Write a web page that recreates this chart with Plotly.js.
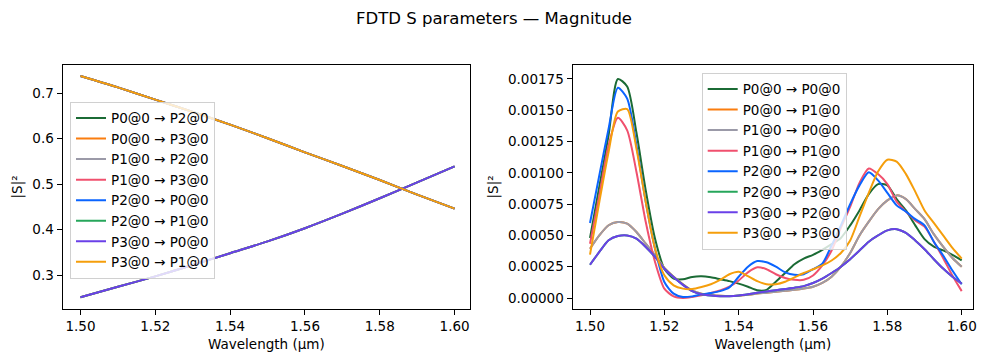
<!DOCTYPE html>
<html>
<head>
<meta charset="utf-8">
<script src="https://cdn.plot.ly/plotly-3.0.1.min.js"></script>
<style>html,body{margin:0;padding:0;background:#fff;}#chart{width:989px;height:362px;}</style>
</head>
<body>
<div id="chart"></div>
<script>
// ---------- data ----------
const chartTitle = 'FDTD S parameters — Magnitude';
const xLabel = 'Wavelength (μm)';
const yLabel = '|S|²';

// left panel: transmission |S|^2
const wlLeft = [1.50, 1.51, 1.52, 1.53, 1.54, 1.55, 1.56, 1.57, 1.58, 1.59, 1.60];
const barTransmission = [0.738, 0.713, 0.686, 0.659, 0.631, 0.601, 0.570, 0.540, 0.509, 0.477, 0.446];
const crossTransmission = [0.251, 0.274, 0.297, 0.322, 0.348, 0.374, 0.403, 0.435, 0.469, 0.504, 0.539];

const leftNames = ['P0@0 → P2@0', 'P0@0 → P3@0', 'P1@0 → P2@0', 'P1@0 → P3@0',
                   'P2@0 → P0@0', 'P2@0 → P1@0', 'P3@0 → P0@0', 'P3@0 → P1@0'];
const leftSeries = [barTransmission, crossTransmission, crossTransmission, barTransmission,
                    barTransmission, crossTransmission, crossTransmission, barTransmission];

// right panel: reflection / isolation |S|^2
const wlRight = [1.5000, 1.5025, 1.5050, 1.5075, 1.5100, 1.5125, 1.5150, 1.5175, 1.5200, 1.5225,
                 1.5250, 1.5275, 1.5300, 1.5325, 1.5350, 1.5375, 1.5400, 1.5425, 1.5450, 1.5475,
                 1.5500, 1.5525, 1.5550, 1.5575, 1.5600, 1.5625, 1.5650, 1.5675, 1.5700, 1.5725,
                 1.5750, 1.5775, 1.5800, 1.5825, 1.5850, 1.5875, 1.5900, 1.5925, 1.5950, 1.5975, 1.6000];
const s00 = [4.79e-4, 8.9e-4, 13.0e-4, 17.5e-4, 16.9e-4, 13.2e-4, 8.6e-4, 4.74e-4, 2.34e-4, 1.55e-4,
             1.49e-4, 1.68e-4, 1.73e-4, 1.65e-4, 1.5e-4, 1.35e-4, 1.15e-4, 0.9e-4, 0.62e-4, 0.65e-4,
             1.3e-4, 2.0e-4, 2.7e-4, 3.15e-4, 3.45e-4, 3.85e-4, 4.3e-4, 4.8e-4, 5.8e-4, 7.0e-4,
             8.3e-4, 9.1e-4, 9.0e-4, 7.9e-4, 7.0e-4, 5.8e-4, 4.7e-4, 4.1e-4, 3.8e-4, 3.45e-4, 3.0e-4];
const s01 = [3.94e-4, 5.0e-4, 5.81e-4, 6.07e-4, 5.94e-4, 5.27e-4, 4.34e-4, 3.41e-4, 2.4e-4, 1.7e-4,
             1.1e-4, 0.6e-4, 0.35e-4, 0.25e-4, 0.18e-4, 0.15e-4, 0.18e-4, 0.25e-4, 0.35e-4, 0.42e-4,
             0.5e-4, 0.58e-4, 0.65e-4, 0.75e-4, 0.9e-4, 1.2e-4, 1.7e-4, 2.5e-4, 3.6e-4, 5.0e-4,
             6.1e-4, 7.1e-4, 7.8e-4, 8.2e-4, 7.9e-4, 7.1e-4, 6.3e-4, 5.1e-4, 4.1e-4, 3.2e-4, 2.5e-4];
const s11 = [4.34e-4, 8.2e-4, 12.2e-4, 14.4e-4, 13.4e-4, 10.07e-4, 6.07e-4, 2.88e-4, 0.75e-4, 0.13e-4,
             0.0, 0.08e-4, 0.21e-4, 0.4e-4, 0.6e-4, 0.9e-4, 1.4e-4, 2.05e-4, 2.45e-4, 2.3e-4,
             1.9e-4, 1.6e-4, 1.45e-4, 1.45e-4, 1.8e-4, 2.6e-4, 3.8e-4, 5.6e-4, 7.3e-4, 9.2e-4,
             10.35e-4, 9.9e-4, 9.1e-4, 7.7e-4, 6.9e-4, 6.2e-4, 5.7e-4, 4.5e-4, 3.2e-4, 1.8e-4, 0.55e-4];
const s22 = [5.99e-4, 9.8e-4, 13.53e-4, 16.8e-4, 15.93e-4, 12.2e-4, 7.67e-4, 3.94e-4, 1.28e-4, 0.35e-4,
             0.08e-4, 0.13e-4, 0.29e-4, 0.4e-4, 0.55e-4, 0.85e-4, 1.7e-4, 2.5e-4, 2.95e-4, 2.85e-4,
             2.5e-4, 2.05e-4, 1.85e-4, 1.9e-4, 2.3e-4, 2.75e-4, 4.2e-4, 5.8e-4, 7.5e-4, 9.0e-4,
             10.05e-4, 9.4e-4, 8.4e-4, 7.4e-4, 6.9e-4, 6.3e-4, 5.8e-4, 4.5e-4, 3.4e-4, 2.2e-4, 1.1e-4];
const s23 = [2.66e-4, 3.68e-4, 4.61e-4, 4.95e-4, 5.0e-4, 4.74e-4, 4.08e-4, 3.28e-4, 2.34e-4, 1.65e-4,
             1.05e-4, 0.55e-4, 0.3e-4, 0.2e-4, 0.14e-4, 0.14e-4, 0.2e-4, 0.3e-4, 0.42e-4, 0.52e-4,
             0.62e-4, 0.72e-4, 0.82e-4, 0.95e-4, 1.2e-4, 1.55e-4, 2.0e-4, 2.5e-4, 3.1e-4, 3.8e-4,
             4.5e-4, 5.0e-4, 5.4e-4, 5.5e-4, 5.2e-4, 4.6e-4, 3.9e-4, 3.1e-4, 2.35e-4, 1.7e-4, 1.15e-4];
const s33 = [3.46e-4, 7.67e-4, 11.67e-4, 14.9e-4, 15.1e-4, 11.93e-4, 7.67e-4, 3.94e-4, 1.81e-4, 1.01e-4,
             0.75e-4, 0.72e-4, 0.88e-4, 1.1e-4, 1.45e-4, 1.9e-4, 2.1e-4, 1.75e-4, 1.35e-4, 1.1e-4,
             1.1e-4, 1.3e-4, 1.65e-4, 2.0e-4, 2.3e-4, 2.6e-4, 3.0e-4, 3.6e-4, 4.6e-4, 6.5e-4,
             8.4e-4, 10.1e-4, 11.05e-4, 10.9e-4, 9.9e-4, 8.5e-4, 7.0e-4, 6.0e-4, 5.0e-4, 4.0e-4, 3.15e-4];

const rightNames = ['P0@0 → P0@0', 'P0@0 → P1@0', 'P1@0 → P0@0', 'P1@0 → P1@0',
                    'P2@0 → P2@0', 'P2@0 → P3@0', 'P3@0 → P2@0', 'P3@0 → P3@0'];
const rightSeries = [s00, s01, s01, s11, s22, s23, s23, s33];

const palette = ['#1b6b35', '#fa7d0f', '#9b9aa8', '#f0506e', '#0a64ff', '#26a65b', '#6a40e8', '#f59e0b'];

// ---------- build ----------
const FONT = 'DejaVu Sans, Arial, sans-serif';
const traces = [];
leftNames.forEach((n, i) => traces.push({
  x: wlLeft, y: leftSeries[i], name: n, type: 'scatter', mode: 'lines',
  line: {color: palette[i], width: 2, shape: 'spline', smoothing: 0.8},
  xaxis: 'x', yaxis: 'y', legend: 'legend'
}));
rightNames.forEach((n, i) => traces.push({
  x: wlRight, y: rightSeries[i], name: n, type: 'scatter', mode: 'lines',
  line: {color: palette[i], width: 2, shape: 'spline', smoothing: 0.7},
  xaxis: 'x2', yaxis: 'y2', legend: 'legend2'
}));

const W = 989, H = 362;
const axBase = {
  showline: true, mirror: true, linecolor: 'black', linewidth: 1,
  ticks: 'outside', ticklen: 5, tickwidth: 1, tickcolor: 'black',
  showgrid: false, zeroline: false, automargin: false,
  tickfont: {family: FONT, size: 13.5, color: 'black'}
};
const yDom = [(H - 308.5) / H, (H - 65.3) / H];
const legBase = {
  bgcolor: 'rgba(255,255,255,0.8)', bordercolor: '#d0d0d0', borderwidth: 1,
  font: {family: FONT, size: 13.5, color: 'black'},
  xanchor: 'left', yanchor: 'top', tracegroupgap: 0
};

const layout = {
  width: W, height: H,
  margin: {l: 0, r: 0, t: 0, b: 0},
  paper_bgcolor: 'white', plot_bgcolor: 'white',
  font: {family: FONT, color: 'black'},
  title: {text: chartTitle, x: 494 / W, xanchor: 'center', y: 1 - 18 / H, yanchor: 'middle',
          font: {family: FONT, size: 16.5, color: 'black'}},
  xaxis: Object.assign({}, axBase, {
    domain: [62.5 / W, 470.3 / W], range: [1.4952, 1.6042], anchor: 'y',
    tick0: 1.5, dtick: 0.02, tickformat: '.2f',
    title: {text: xLabel, standoff: 6, font: {family: FONT, size: 13.5, color: 'black'}}
  }),
  yaxis: Object.assign({}, axBase, {
    domain: yDom, range: [0.2263, 0.7616], anchor: 'x',
    tick0: 0, dtick: 0.1, tickformat: '.1f',
    title: {text: yLabel, standoff: 6, font: {family: FONT, size: 13.5, color: 'black'}}
  }),
  xaxis2: Object.assign({}, axBase, {
    domain: [572.5 / W, 973.3 / W], range: [1.49529, 1.60312], anchor: 'y2',
    tick0: 1.5, dtick: 0.02, tickformat: '.2f',
    title: {text: xLabel, standoff: 6, font: {family: FONT, size: 13.5, color: 'black'}}
  }),
  yaxis2: Object.assign({}, axBase, {
    domain: yDom, range: [-0.0000839, 0.0018594], anchor: 'x2',
    tick0: 0, dtick: 0.00025, tickformat: '.5f',
    title: {text: yLabel, standoff: 6, font: {family: FONT, size: 13.5, color: 'black'}}
  }),
  legend: Object.assign({}, legBase, {x: 70 / W, y: 1 - 101.7 / H}),
  legend2: Object.assign({}, legBase, {x: 701.7 / W, y: 1 - 72.7 / H}),
  showlegend: true
};

Plotly.newPlot('chart', traces, layout, {staticPlot: true, displayModeBar: false});
</script>
</body>
</html>
